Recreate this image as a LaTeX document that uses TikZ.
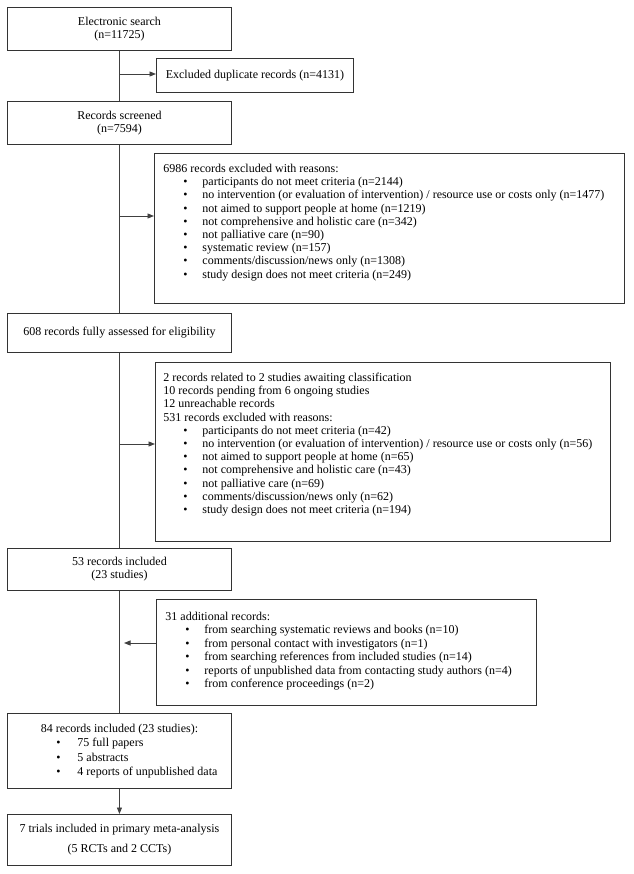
\documentclass[tikz,border=0pt]{standalone}
\usepackage{fontspec}
\setmainfont{Liberation Serif}
\usetikzlibrary{arrows.meta}
\definecolor{boxc}{HTML}{333333}
\definecolor{linec}{HTML}{404040}
\newcommand{\bul}[1]{\hspace*{20pt}\makebox[19pt][l]{\textbullet}#1}
\newcommand{\ibul}[1]{\hspace*{49pt}\makebox[21pt][l]{\textbullet}#1}
\begin{document}
\begin{tikzpicture}[x=1pt,y=-1pt,
  box/.style={draw=boxc,line width=0.9pt,inner sep=0pt,anchor=north west,font=\fontsize{12}{13.2}\selectfont},
  ln/.style={draw=linec,line width=0.9pt},
  arr/.style={ln,-{Triangle[length=6.5pt,width=5pt]}}]
\useasboundingbox[fill=white] (0,0) rectangle (633,874);

\node[box,minimum width=224pt,minimum height=43pt,align=center] (A) at (7,7) {Electronic search\\(n=11725)};
\node[box,minimum width=197pt,minimum height=34pt] (B) at (156,58) {Excluded duplicate records (n=4131)};
\node[box,minimum width=224pt,minimum height=43pt,align=center] (C) at (7,101) {Records screened\\(n=7594)};
\node[box] (D) at (154,153) {\parbox[t][150pt][t]{470pt}{\raggedright\leftskip=9pt
\rule{0pt}{19pt}6986 records excluded with reasons:\\
\bul{participants do not meet criteria (n=2144)}\\
\bul{no intervention (or evaluation of intervention) / resource use or costs only (n=1477)}\\
\bul{not aimed to support people at home (n=1219)}\\
\bul{not comprehensive and holistic care (n=342)}\\
\bul{not palliative care (n=90)}\\
\bul{systematic review (n=157)}\\
\bul{comments/discussion/news only (n=1308)}\\
\bul{study design does not meet criteria (n=249)}}};
\node[box,minimum width=224pt,minimum height=39pt] (E) at (7,313) {608 records fully assessed for eligibility};
\node[box] (F) at (155,362) {\parbox[t][179pt][t]{455pt}{\raggedright\leftskip=8pt
\rule{0pt}{19pt}2 records related to 2 studies awaiting classification\\
10 records pending from 6 ongoing studies\\
12 unreachable records\\
531 records excluded with reasons:\\
\bul{participants do not meet criteria (n=42)}\\
\bul{no intervention (or evaluation of intervention) / resource use or costs only (n=56)}\\
\bul{not aimed to support people at home (n=65)}\\
\bul{not comprehensive and holistic care (n=43)}\\
\bul{not palliative care (n=69)}\\
\bul{comments/discussion/news only (n=62)}\\
\bul{study design does not meet criteria (n=194)}}};
\node[box,minimum width=224pt,minimum height=42pt,align=center] (G) at (7,548) {53 records included\\(23 studies)};
\node[box,font=\fontsize{12}{13.5}\selectfont] (H) at (156,599) {\parbox[t][106pt][t]{380pt}{\raggedright\leftskip=9pt
\rule{0pt}{21pt}31 additional records:\\
\bul{from searching systematic reviews and books (n=10)}\\
\bul{from personal contact with investigators (n=1)}\\
\bul{from searching references from included studies (n=14)}\\
\bul{reports of unpublished data from contacting study authors (n=4)}\\
\bul{from conference proceedings (n=2)}}};
\node[box,minimum width=224pt,minimum height=75pt,font=\fontsize{12}{14.5}\selectfont] (I) at (7,713) {\parbox{224pt}{\makebox[224pt][c]{84 records included (23 studies):}\\
\ibul{75 full papers}\\
\ibul{5 abstracts}\\
\ibul{4 reports of unpublished data}}};
\node[box,minimum width=224pt,minimum height=51pt,align=center] (J) at (7,814) {7 trials included in primary meta-analysis\\[7pt](5 RCTs and 2 CCTs)};

\coordinate (j1) at (119,74);
\coordinate (j2) at (119,216);
\coordinate (j3) at (119,444);
\coordinate (j4) at (124,643);
\draw[ln] (A.south) -- (C.north);
\draw[arr] (j1) -- (j1 -| B.west);
\draw[ln] (C.south) -- (E.north);
\draw[arr] (j2) -- (j2 -| D.west);
\draw[ln] (E.south) -- (G.north);
\draw[arr] (j3) -- (j3 -| F.west);
\draw[ln] (G.south) -- (I.north);
\draw[arr] (j4 -| H.west) -- (j4);
\draw[arr] (I.south) -- (J.north);
\end{tikzpicture}
\end{document}
